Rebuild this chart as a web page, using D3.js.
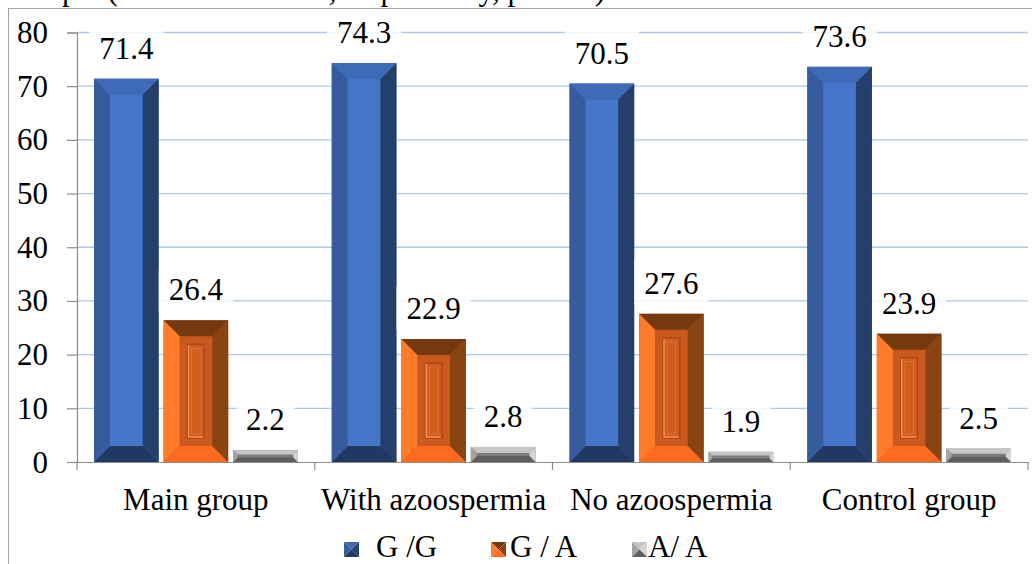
<!DOCTYPE html>
<html>
<head>
<meta charset="utf-8">
<script src="https://cdn.jsdelivr.net/npm/d3@7"></script>
</head>
<body style="margin:0">
<svg id="chart" width="1032" height="564" style="display:block;background:#fff"></svg>
<script>
// ---- data ----
const categories = ["Main group", "With azoospermia", "No azoospermia", "Control group"];
const seriesNames = ["G /G", "G / A", "A/ A"];
const valuesGG = [71.4, 74.3, 70.5, 73.6];
const valuesGA = [26.4, 22.9, 27.6, 23.9];
const valuesAA = [2.2, 2.8, 1.9, 2.5];
const yTicks = [0, 10, 20, 30, 40, 50, 60, 70, 80];
const captionText = "sample (45.3% vs. 44.4%, respectively, p>0.05).";

const seriesValues = [valuesGG, valuesGA, valuesAA];

// ---- styles ----
const bevelColors = [
  { top: "#3E6AB8", left: "#375C9E", right: "#253F6C", bottom: "#213863", face: "#4676CA" },
  { top: "#74390F", left: "#FF7B2C", right: "#8A4412", bottom: "#FF6B1E", face: "#CB581C" },
  { top: "#C6C6C6", left: "#A3A3A3", right: "#D4D4D4", bottom: "#5E5E5E", face: "#7C7C7C" }
];

const svg = d3.select("#chart");
const fontSize = 31;
const labelLayer = [];
// texts are appended straight into the svg (not into groups)
function addText(x, yy, str, anchor) {
  const t = svg.append("text")
    .attr("x", x).attr("y", yy)
    .attr("text-anchor", anchor || "start")
    .attr("fill", "#000")
    .attr("font-family", "Liberation Serif")
    .attr("font-size", fontSize)
    .style("font-family", "'Liberation Serif'", "important")
    .style("font-size", fontSize + "px", "important")
    .text(str);
  return t;
}

addText(12, -0.5, captionText);

svg.append("rect")
  .attr("x", 8.5).attr("y", 8.5)
  .attr("width", 1100).attr("height", 700)
  .attr("fill", "#ffffff")
  .attr("stroke", "#A6A6A6").attr("stroke-width", 1);

const pLeft = 77, pRight = 1028, pTop = 32.5, pBottom = 462;

const y = d3.scaleLinear().domain([0, 80]).range([pBottom, pTop]);
const x0 = d3.scaleBand().domain(categories).range([pLeft, pRight]).paddingInner(0).paddingOuter(0);
const x1 = d3.scaleBand().domain(seriesNames)
  .range([17, x0.bandwidth() - 17]).paddingInner(0.07).paddingOuter(0);

// gridlines
svg.append("g").selectAll("line").data(yTicks.filter(d => d > 0)).join("line")
  .attr("x1", pLeft).attr("x2", pRight)
  .attr("y1", d => y(d)).attr("y2", d => y(d))
  .attr("stroke", "#A9C8EA").attr("stroke-width", 1.3);

// y axis lines from d3.axis, labels drawn separately as plain svg texts
const yAxis = d3.axisLeft(y).tickValues(yTicks).tickSize(10).tickFormat("");
const gy = svg.append("g").attr("transform", `translate(${pLeft},0)`).call(yAxis);
gy.selectAll(".tick text").remove();
gy.select(".domain").attr("stroke", "#8C8C8C").attr("stroke-width", 1.2);
gy.selectAll(".tick line").attr("stroke", "#8C8C8C").attr("stroke-width", 1.2);
yTicks.forEach(v => addText(pLeft - 29, y(v) + 10.5, d3.format("d")(v), "end"));

// x axis
const xAxis = d3.axisBottom(x0).tickSize(0).tickFormat("");
const gx = svg.append("g").attr("transform", `translate(0,${pBottom})`).call(xAxis);
gx.selectAll(".tick text").remove();
gx.select(".domain").attr("stroke", "#8C8C8C").attr("stroke-width", 1.2);
categories.forEach(c => addText(x0(c) + x0.bandwidth() / 2, pBottom + 48, c, "middle"));

const bounds = categories.map(c => x0(c)).concat([pRight]);
svg.append("g").selectAll("line").data(bounds).join("line")
  .attr("x1", d => d).attr("x2", d => d)
  .attr("y1", pBottom).attr("y2", pBottom + 8)
  .attr("stroke", "#8C8C8C").attr("stroke-width", 1.2);

function bevelBar(g, x, yTop, w, h, col, maxB) {
  const b = Math.max(0, Math.min(maxB, h / 2 - 1.5, w / 2));
  const X = x, Y = yTop, W = w, H = h;
  const poly = (pts, fill) => g.append("polygon")
    .attr("points", pts.map(p => p.join(",")).join(" ")).attr("fill", fill);
  g.append("rect").attr("x", X).attr("y", Y).attr("width", W).attr("height", H).attr("fill", col.face);
  poly([[X, Y], [X + W, Y], [X + W - b, Y + b], [X + b, Y + b]], col.top);
  poly([[X, Y + H], [X + W, Y + H], [X + W - b, Y + H - b], [X + b, Y + H - b]], col.bottom);
  poly([[X, Y], [X + b, Y + b], [X + b, Y + H - b], [X, Y + H]], col.left);
  poly([[X + W, Y], [X + W - b, Y + b], [X + W - b, Y + H - b], [X + W, Y + H]], col.right);
  return b;
}

const barsG = svg.append("g");
const labelSpecs = [];

categories.forEach((cat, ci) => {
  seriesNames.forEach((s, si) => {
    const v = seriesValues[si][ci];
    const bx = x0(cat) + x1(s);
    const bw = x1.bandwidth();
    const by = y(v);
    const bh = y(0) - y(v);
    const g = barsG.append("g");
    bevelBar(g, bx, by, bw, bh, bevelColors[si], 16);
    if (si === 1 && bh > 60) {
      const ix = bx + 24, iy = by + 24, iw = bw - 48, ih = bh - 48;
      g.append("rect").attr("x", ix).attr("y", iy).attr("width", iw).attr("height", ih)
        .attr("fill", "#D05D1E").attr("stroke", "#A4461A").attr("stroke-width", 1.2);
      g.append("path")
        .attr("d", `M${ix + 1},${iy + 1} L${ix + 1},${iy + ih - 1} L${ix + iw - 1},${iy + ih - 1}`)
        .attr("fill", "none").attr("stroke", "#F39257").attr("stroke-width", 1.4);
      g.append("rect").attr("x", ix + 4).attr("y", iy + 4).attr("width", iw - 8).attr("height", ih - 8)
        .attr("fill", "none").attr("stroke", "#E27435").attr("stroke-width", 0.8);
    }
    labelSpecs.push({ cx: bx + bw / 2, base: by - 20, str: d3.format(".1f")(v) });
  });
});

// label backgrounds first, then texts on top
labelSpecs.forEach(L => {
  const tw = 0.5 * fontSize * (L.str.length - 1) + 0.25 * fontSize;
  svg.append("rect")
    .attr("x", L.cx - tw / 2 - 10).attr("y", L.base - 33)
    .attr("width", tw + 20).attr("height", 44)
    .attr("fill", "#ffffff").attr("fill-opacity", 0.85);
});
labelSpecs.forEach(L => addText(L.cx, L.base, L.str, "middle"));

// legend
const legendX = [344, 491, 632];
const textOffset = [32, 19, 16];
seriesNames.forEach((s, i) => {
  const mx = legendX[i], my = 542, ms = 15;
  const c = bevelColors[i];
  const cxm = mx + ms / 2, cym = my + ms / 2;
  const tri = (pts, fill) => svg.append("polygon").attr("points", pts.map(p => p.join(",")).join(" ")).attr("fill", fill);
  tri([[mx, my], [mx + ms, my], [cxm, cym]], c.top);
  tri([[mx, my], [mx, my + ms], [cxm, cym]], c.left);
  tri([[mx + ms, my], [mx + ms, my + ms], [cxm, cym]], c.right);
  tri([[mx, my + ms], [mx + ms, my + ms], [cxm, cym]], c.bottom);
  addText(mx + textOffset[i], 557, s);
});
</script>
</body>
</html>
